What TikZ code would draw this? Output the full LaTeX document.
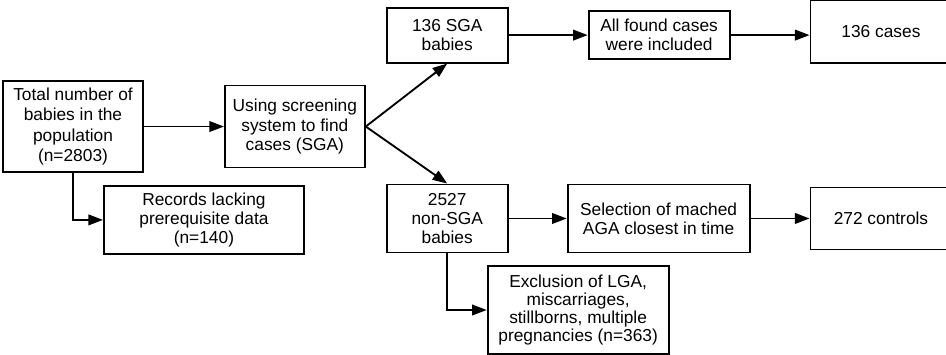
\documentclass[tikz,border=0pt]{standalone}
\usepackage{fontspec}
\setmainfont{Liberation Sans}
\usetikzlibrary{positioning, arrows.meta}

\begin{document}
\begin{tikzpicture}[
        box/.style={rectangle, draw=black, line width=1.4pt, inner sep=2pt, align=center, font=\fontsize{13}{14.5}\selectfont},
        arrow/.style={-{Triangle[length=11pt, width=8pt]}, line width=1.4pt}
        ]
        \useasboundingbox (0,0) rectangle (709.5pt,-265.5pt);

        \node[box, minimum width=105pt, minimum height=68.25pt, font=\fontsize{13}{15.3}\selectfont] (total) at (54.75pt,-94.9pt) {Total number of\\babies in the\\population\\(n=2803)};
        \node[box, minimum width=105pt, minimum height=61.5pt, right=60pt of total] (screening) {Using screening\\system to find\\cases (SGA)};
        \node[box, minimum width=150pt, minimum height=51pt, below right=9pt and 22.5pt of total.south] (lacking) {Records lacking\\prerequisite data\\(n=140)};
        \node[box, minimum width=90.75pt, minimum height=41.25pt, above right=47.25pt and 15pt of screening.east] (sga) {136 SGA\\babies};
        \node[box, minimum width=90.75pt, minimum height=51pt, below right=42.75pt and 15pt of screening.east] (nonsga) {2527\\non-SGA\\babies};
        \node[box, minimum width=105.75pt, minimum height=36pt, right=59.25pt of sga] (found) {All found cases\\were included};
        \node[box, minimum width=105.75pt, minimum height=47.25pt, right=59.25pt of found, yshift=3pt] (cases) {136 cases};
        \node[box, minimum width=136.5pt, minimum height=51pt, right=43.5pt of nonsga] (matched) {Selection of mached\\AGA closest in time};
        \node[box, minimum width=135.75pt, minimum height=65.5pt, font=\fontsize{13}{13.6}\selectfont, below right=9pt and 29.6pt of nonsga.south] (exclusion) {Exclusion of LGA,\\miscarriages,\\stillborns, multiple\\pregnancies (n=363)};
        \node[box, minimum width=105.75pt, minimum height=46.5pt, right=44.25pt of matched] (controls) {272 controls};

        \draw[arrow] (total) -- (screening);
        \draw[arrow] (total.south) |- (lacking.west);
        \draw[arrow] (screening.east) -- (sga.south);
        \draw[arrow] (screening.east) -- (nonsga.north);
        \draw[arrow] (sga) -- (found);
        \draw[arrow] (found.east) -- (found.east -| cases.west);
        \draw[arrow] (nonsga) -- (matched);
        \draw[arrow] (matched) -- (controls);
        \draw[arrow] (nonsga.south) |- (exclusion.west);
    \end{tikzpicture}
\end{document}
